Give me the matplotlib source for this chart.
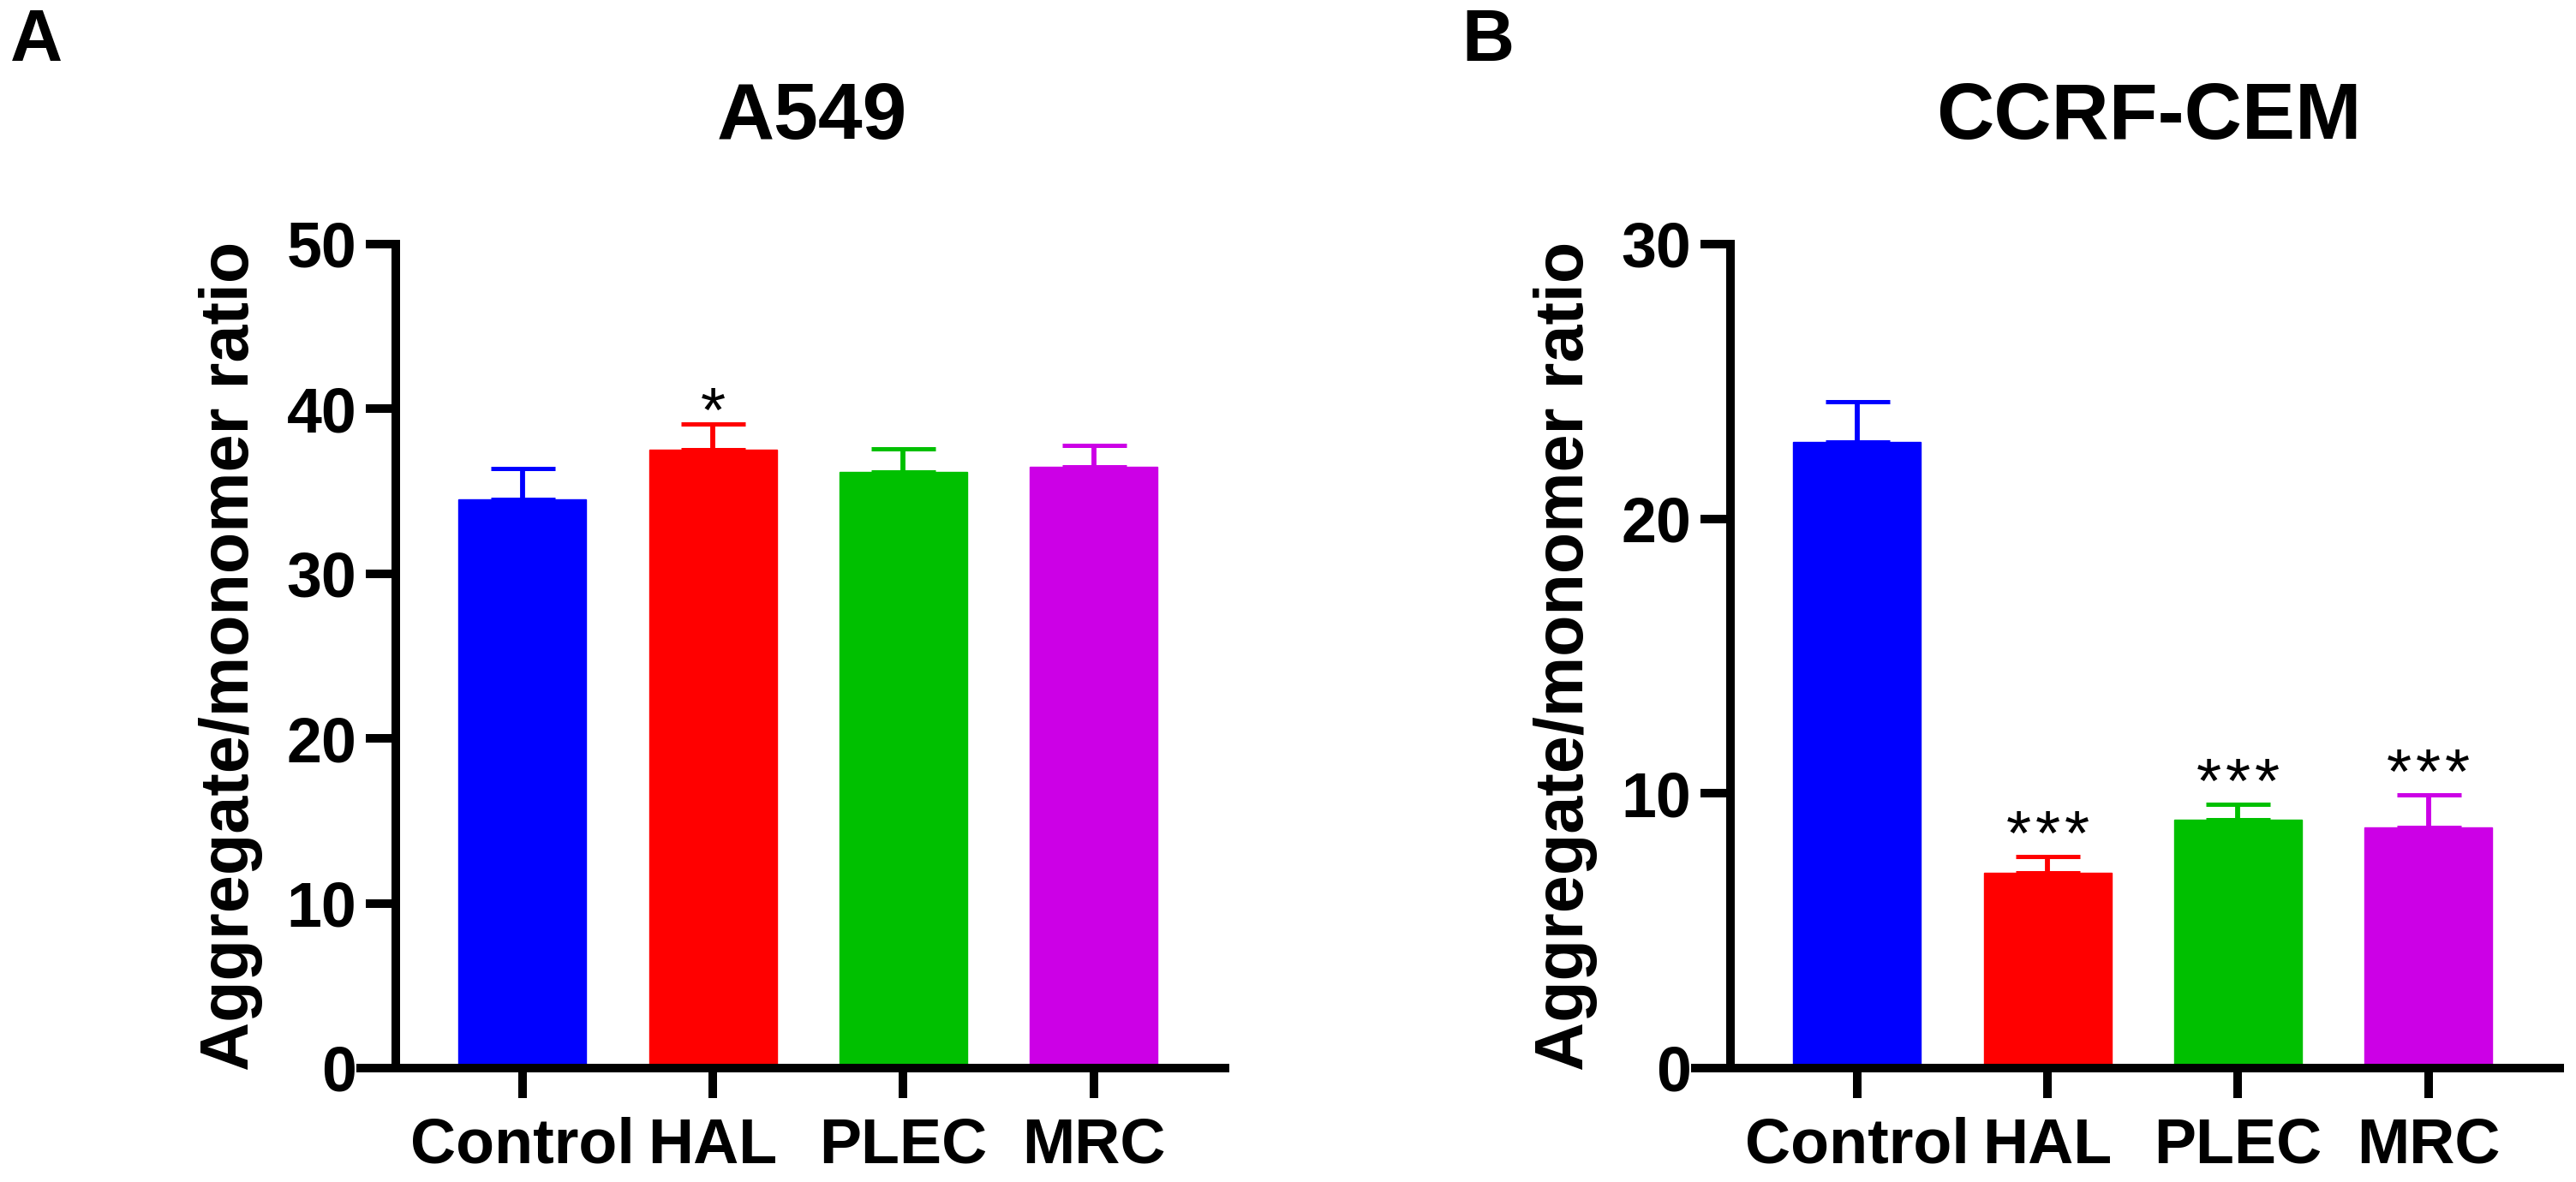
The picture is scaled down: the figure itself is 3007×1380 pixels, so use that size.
import matplotlib
matplotlib.use("Agg")
import matplotlib.pyplot as plt

plt.rcParams['font.family'] = ['Liberation Sans', 'DejaVu Sans']

groups = ['Control', 'HAL', 'PLEC', 'MRC']
colors = ['#0000FF', '#FF0000', '#00C000', '#CC00E6']

# A549
a549_mean = [34.5, 37.5, 36.2, 36.5]
a549_err = [1.9, 1.6, 1.4, 1.3]
a549_stars = [0, 1, 0, 0]

# CCRF-CEM
cem_mean = [22.8, 7.1, 9.05, 8.75]
cem_err = [1.45, 0.6, 0.55, 1.2]
cem_stars = [0, 3, 3, 3]

W, H = 3007, 1380
fig = plt.figure(figsize=(W / 100, H / 100), dpi=100)


def panel(left_px, mean, err, stars, ymax, title, title_x, letter, letter_x, star_off):
    ax = fig.add_axes([left_px / W, (H - 1247) / H, 1009 / W, (1247 - 285) / H])
    x = list(range(len(groups)))
    ax.bar(x, mean, width=0.67, color=colors, edgecolor=colors, linewidth=1, zorder=2)
    for i in x:
        ax.errorbar(i, mean[i], yerr=[[0], [err[i]]], fmt='none', ecolor=colors[i],
                    elinewidth=4.2, capsize=27, capthick=3.6, zorder=1)
        # significance stars, spaced a little wider than plain "***"
        n = stars[i]
        for k in range(n):
            dx = (k - (n - 1) / 2) * 34
            ax.annotate('*', (i, mean[i] + err[i]), xytext=(dx, star_off),
                        textcoords='offset pixels', ha='center', va='baseline',
                        fontsize=54)
    ax.set_xlim(-0.85, 3.69)
    ax.set_ylim(0, ymax)
    ax.set_yticks(range(0, ymax + 1, 10))
    ax.set_xticks(x)
    ax.set_xticklabels(groups)
    for s in ['top', 'right']:
        ax.spines[s].set_visible(False)
    ax.spines['left'].set_position(('data', -0.665))
    for s in ['left', 'bottom']:
        ax.spines[s].set_linewidth(7.2)
    ax.tick_params(axis='both', length=25, width=7.2, labelsize=53)
    ax.tick_params(axis='y', pad=8)
    ax.tick_params(axis='x', pad=16)
    for lab in ax.get_xticklabels() + ax.get_yticklabels():
        lab.set_fontweight('bold')
    ax.set_ylabel('Aggregate/monomer ratio', fontsize=57, fontweight='bold', labelpad=20)
    fig.text(title_x / W, (H - 162) / H, title, fontsize=67, fontweight='bold',
             ha='center', va='baseline')
    fig.text(letter_x / W, (H - 71) / H, letter, fontsize=61, fontweight='bold',
             ha='left', va='baseline')
    return ax


panel(421, a549_mean, a549_err, a549_stars, 50, 'A549', 948, 'A', 12, -9)
panel(1979, cem_mean, cem_err, cem_stars, 30, 'CCRF-CEM', 2508, 'B', 1706, 2)

fig.savefig('out.png', dpi=100)
